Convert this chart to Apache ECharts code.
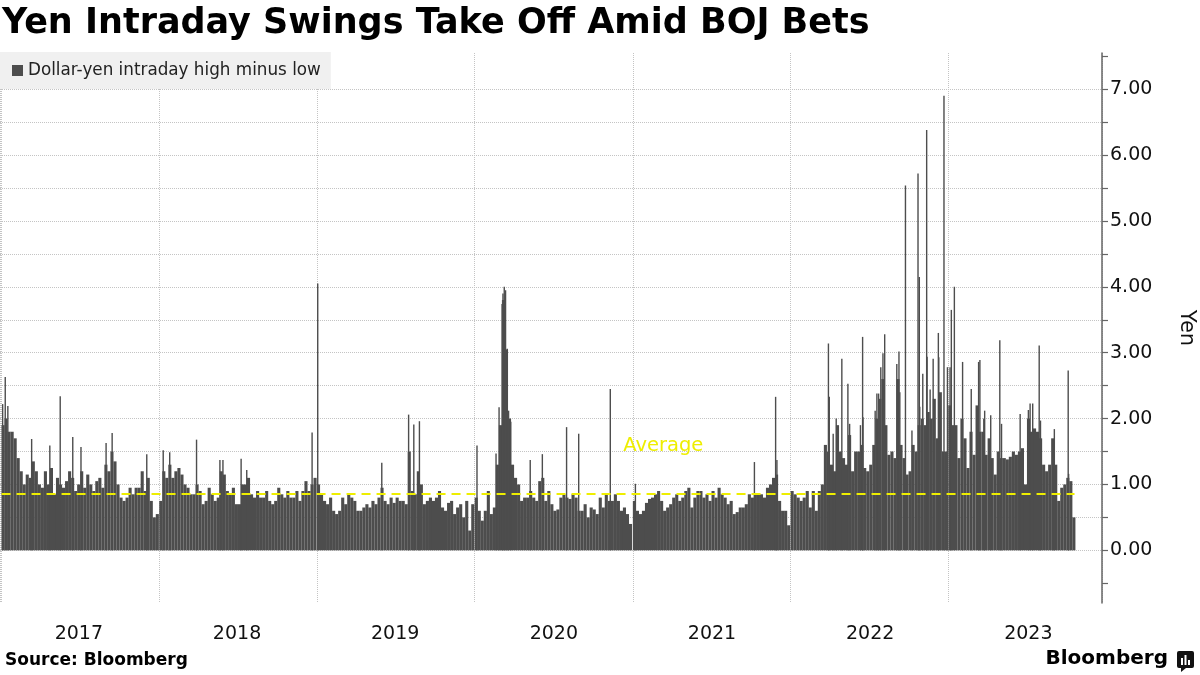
<!DOCTYPE html>
<html><head><meta charset="utf-8">
<script src="https://cdn.jsdelivr.net/npm/echarts/dist/echarts.min.js"></script>
<style>html,body{margin:0;padding:0;background:#fff}#c{width:1200px;height:675px}</style>
</head><body><div id="c"></div>
<script>
// ---- data ----
const titleText = 'Yen Intraday Swings Take Off Amid BOJ Bets';
const seriesName = 'Dollar-yen intraday high minus low';
const years = [2017, 2018, 2019, 2020, 2021, 2022, 2023];
// weekly typical intraday range (yen), week i of each year
const base2017 = [1.9,2.0,1.8,1.8,1.7,1.4,1.2,1.0,1.15,1.1, 1.35,1.2,1.0,0.95,1.2,1.0,1.25,0.85,1.1,1.0, 0.95,1.05,1.2,1.1,0.9,1.0,1.2,0.95,1.15,1.0, 0.9,1.05,1.1,0.95,1.3,1.2,1.5,1.35,1.0,0.8, 0.75,0.8,0.95,0.85,0.95,0.95,1.2,0.9,1.1,0.75, 0.5,0.55];
const base2018 = [0.75,1.2,1.1,1.3,1.1,1.2,1.25,1.15,1.0,0.95, 0.85,0.85,1.0,0.9,0.7,0.75,0.95,0.85,0.75,0.8, 1.2,1.15,0.9,0.85,0.95,0.7,0.7,1.0,1.0,1.1, 0.85,0.8,0.9,0.8,0.8,0.9,0.75,0.7,0.75,0.95, 0.85,0.8,0.9,0.8,0.8,0.9,0.75,0.9,1.05,0.9, 1.0,1.1];
const base2019 = [1.0,0.85,0.75,0.7,0.8,0.6,0.55,0.6,0.8,0.7, 0.85,0.8,0.75,0.6,0.6,0.65,0.7,0.65,0.75,0.7, 0.8,0.95,0.75,0.7,0.8,0.72,0.8,0.75,0.75,0.7, 1.5,0.9,0.85,1.2,1.0,0.7,0.75,0.8,0.75,0.8, 0.9,0.65,0.6,0.72,0.75,0.55,0.65,0.7,0.5,0.75, 0.3,0.7];
const base2020 = [0.8,0.6,0.45,0.6,0.9,0.55,0.65,1.3,1.9,3.8, 3.05,2.0,1.3,1.1,1.0,0.75,0.8,0.8,0.9,0.8, 0.75,1.05,1.1,0.75,0.9,0.7,0.6,0.62,0.8,0.85, 0.8,0.78,0.85,0.8,0.6,0.6,0.7,0.5,0.65,0.62, 0.55,0.8,0.65,0.85,0.75,0.75,0.85,0.75,0.6,0.65, 0.55,0.4];
const base2021 = [0.75,0.6,0.55,0.6,0.72,0.78,0.8,0.85,0.9,0.75, 0.6,0.65,0.7,0.8,0.85,0.75,0.8,0.9,0.95,0.65, 0.8,0.9,0.9,0.8,0.85,0.75,0.9,0.8,0.95,0.85, 0.8,0.7,0.75,0.55,0.58,0.65,0.65,0.7,0.85,0.8, 0.85,0.85,0.85,0.8,0.95,1.0,1.1,1.15,0.75,0.6, 0.6,0.38];
const base2022 = [0.9,0.85,0.8,0.75,0.8,0.9,0.65,0.9,0.6,0.9, 1.0,1.6,1.5,1.3,1.2,1.9,1.5,1.4,1.3,1.75, 1.2,1.5,1.5,1.6,1.25,1.2,1.3,1.6,2.0,2.3, 2.6,1.9,1.45,1.5,1.4,2.6,1.6,1.4,1.15,1.2, 1.6,1.5,1.9,2.0,1.9,2.1,2.0,2.3,1.7,2.4, 1.5,1.5];
const base2023 = [2.2,1.9,1.9,1.4,2.0,1.7,1.25,1.8,1.45,2.2, 1.8,1.8,1.45,1.7,1.4,1.15,1.5,1.4,1.4,1.38, 1.42,1.5,1.45,1.5,1.55,1.0,2.0,1.8,1.85,1.8, 1.7,1.3,1.2,1.3,1.7,1.3,0.75,0.95,1.0,1.1, 1.05,0.5];
// individual daily spikes that stand out
const spikeDates = ['2017-01-05','2017-01-11','2017-01-17','2017-03-13','2017-04-24','2017-05-18','2017-06-16','2017-07-05','2017-09-01','2017-09-15','2017-12-04',
 '2018-01-11','2018-01-26','2018-03-29','2018-05-22','2018-05-29','2018-07-10','2018-07-23','2018-12-21',
 '2019-01-03','2019-05-31','2019-08-01','2019-08-13','2019-08-26',
 '2020-01-06','2020-02-19','2020-02-26','2020-03-04','2020-03-06','2020-03-09','2020-03-12','2020-03-16','2020-03-19','2020-03-24','2020-05-08','2020-06-05','2020-07-31','2020-08-28','2020-11-09',
 '2021-01-06','2021-10-08','2021-11-26','2021-11-29',
 '2022-03-28','2022-03-30','2022-04-08','2022-04-15','2022-04-28','2022-05-12','2022-05-16','2022-06-10','2022-06-15','2022-06-16','2022-07-14','2022-07-18','2022-07-22','2022-07-27','2022-08-01','2022-08-05','2022-09-02','2022-09-07','2022-09-09','2022-09-22','2022-10-07','2022-10-21','2022-10-24','2022-10-25','2022-11-01','2022-11-10','2022-11-11','2022-11-18','2022-11-25','2022-12-07','2022-12-08','2022-12-20','2022-12-28',
 '2023-01-03','2023-01-06','2023-01-13','2023-02-01','2023-02-21','2023-03-10','2023-03-13','2023-03-22','2023-03-24','2023-04-07','2023-04-28','2023-05-02','2023-06-14','2023-07-03','2023-07-07','2023-07-13','2023-07-28','2023-07-31','2023-08-29','2023-09-01','2023-10-03','2023-10-04'];
const spikeValues = [2.22,2.63,2.19,1.69,1.59,2.34,1.72,1.57,1.63,1.78,1.46,
 1.52,1.49,1.68,1.37,1.37,1.39,1.22,1.79,
 4.05,1.33,2.06,1.91,1.96,
 1.59,1.47,2.17,3.74,3.9,4.0,3.95,3.06,2.12,1.95,1.37,1.46,1.87,1.77,2.45,
 1.01,1.34,2.33,1.37,
 3.14,2.33,1.77,2.0,2.91,2.53,1.92,1.9,3.24,2.02,2.12,2.38,2.38,2.78,2.99,3.28,2.83,3.02,2.4,5.54,1.82,5.72,4.15,2.18,2.68,6.38,2.94,2.44,2.91,3.3,2.93,6.9,2.78,
 2.78,3.65,4.0,2.86,2.45,2.86,2.89,2.0,2.12,2.05,3.19,1.92,2.07,2.13,2.23,2.23,3.11,1.97,1.69,1.84,2.73,1.16];
const averageValue = 0.865;
const averageFrom = '2017-01-01';
const averageTo = '2023-10-20';
const averageLabel = 'Average';
const averageLabelAt = ['2021-03-12', 1.58];
const yTickLabels = [0, 1, 2, 3, 4, 5, 6, 7];
const yTickMarks = [-0.5, 0, 0.5, 1, 1.5, 2, 2.5, 3, 3.5, 4, 4.5, 5, 5.5, 6, 6.5, 7, 7.5];
const xStart = '2017-01-01';
const xEnd = '2023-12-19';

// ---- build ----
const DAY = 864e5;
const baseByYear = [base2017, base2018, base2019, base2020, base2021, base2022, base2023];
const baseData = [];
baseByYear.forEach((arr, k) => {
  arr.forEach((v, i) => baseData.push([Date.UTC(years[k], 0, 1) + (7 * i + 3.5) * DAY, v]));
});
const spikeData = spikeDates.map((d, i) => [Date.parse(d) + 0.5 * DAY, spikeValues[i]]);
const yearMid = years.map(y => Date.UTC(y, 6, 2));

const FONT = 'DejaVu Sans';
const BAR = '#4d4d4d';
const YELLOW = '#eeee00';
const GRIDC = '#c4c4c4';

const chart = echarts.init(document.getElementById('c'), null, {renderer: 'canvas'});
chart.setOption({
  animation: false,
  useUTC: true,
  backgroundColor: '#ffffff',
  textStyle: {fontFamily: FONT},
  title: {
    text: titleText, left: 0, top: 1, padding: [5, 2],
    textStyle: {fontFamily: FONT, fontWeight: 'bold', fontSize: 35, color: '#000'}
  },
  legend: {
    data: [seriesName], left: 0, top: 52, padding: [10, 10, 10, 12],
    backgroundColor: '#f0f0f0', icon: 'rect', itemWidth: 11, itemHeight: 11,
    selectedMode: false,
    textStyle: {fontFamily: FONT, fontSize: 16.8, color: '#222'}
  },
  grid: {left: 0, right: 98, top: 53, bottom: 72, containLabel: false, outerBoundsMode: 'none'},
  xAxis: [{
    type: 'time', position: 'bottom', min: Date.parse(xStart), max: Date.parse(xEnd),
    minInterval: 360 * DAY, maxInterval: 370 * DAY,
    axisLine: {show: false}, axisTick: {show: false}, axisLabel: {show: false},
    splitLine: {show: true, lineStyle: {type: 'dotted', color: GRIDC, width: 1}}
  }, {
    type: 'time', position: 'bottom', min: Date.parse(xStart), max: Date.parse(xEnd), show: false
  }, {
    type: 'value', position: 'bottom', offset: 0, min: Date.parse(xStart), max: Date.parse(xEnd),
    axisLine: {show: false}, axisTick: {show: false}, splitLine: {show: false},
    axisLabel: {
      customValues: yearMid,
      formatter: v => String(new Date(v).getUTCFullYear()),
      fontFamily: FONT, fontSize: 19, color: '#111', margin: 22
    }
  }],
  yAxis: {
    type: 'value', position: 'right', min: -0.8, max: 7.55, splitNumber: 8,
    axisLine: {show: true, lineStyle: {color: '#666', width: 1.5}},
    axisTick: {show: true, customValues: yTickMarks, length: 6, inside: false, lineStyle: {color: '#666', width: 1.2}},
    axisLabel: {customValues: yTickLabels, formatter: v => Number(v).toFixed(2), fontFamily: FONT, fontSize: 19, color: '#111', margin: 8},
    splitLine: {show: true, showMinLine: false, showMaxLine: false, lineStyle: {type: 'dotted', color: GRIDC, width: 1}},
    name: 'Yen', nameLocation: 'middle', nameRotate: -90, nameGap: 74,
    nameTextStyle: {fontFamily: FONT, fontSize: 21, color: '#111'}
  },
  series: [{
    name: seriesName, type: 'bar', xAxisIndex: 0, data: baseData,
    barWidth: 3.1, itemStyle: {color: BAR}, large: false, z: 2,
    markLine: {
      silent: true, symbol: ['none', 'none'], label: {show: false},
      lineStyle: {color: YELLOW, type: [9, 6], width: 2},
      data: [[{coord: [Date.parse(averageFrom), averageValue]}, {coord: [Date.parse(averageTo), averageValue]}]],
      z: 5
    }
  }, {
    name: seriesName, type: 'bar', xAxisIndex: 1, data: spikeData,
    barWidth: 1.4, itemStyle: {color: BAR}, z: 2,
    markPoint: {
      silent: true, symbol: 'rect', symbolSize: 1, itemStyle: {color: 'rgba(0,0,0,0)'},
      label: {show: true, position: 'inside', formatter: averageLabel, color: YELLOW, fontFamily: FONT, fontSize: 19.5},
      data: [{coord: [Date.parse(averageLabelAt[0]), averageLabelAt[1]]}]
    }
  }],
  graphic: [
    {type: 'text', left: 5, top: 652, style: {text: 'Source: Bloomberg', font: 'bold 17px "DejaVu Sans"', fill: '#000'}},
    {type: 'text', right: 32, top: 649, style: {text: 'Bloomberg', font: 'bold 20px "DejaVu Sans"', fill: '#000'}},
    {type: 'group', right: 6, top: 651, children: [
      {type: 'rect', shape: {x: 0, y: 0, width: 17, height: 17, r: 2}, style: {fill: '#111'}},
      {type: 'polygon', shape: {points: [[4, 17], [9, 17], [4, 21]]}, style: {fill: '#111'}},
      {type: 'rect', shape: {x: 4, y: 7, width: 2, height: 7}, style: {fill: '#fff'}},
      {type: 'rect', shape: {x: 7.5, y: 4, width: 2, height: 10}, style: {fill: '#fff'}},
      {type: 'rect', shape: {x: 11, y: 9, width: 2, height: 5}, style: {fill: '#fff'}}
    ]}
  ]
});
</script></body></html>
